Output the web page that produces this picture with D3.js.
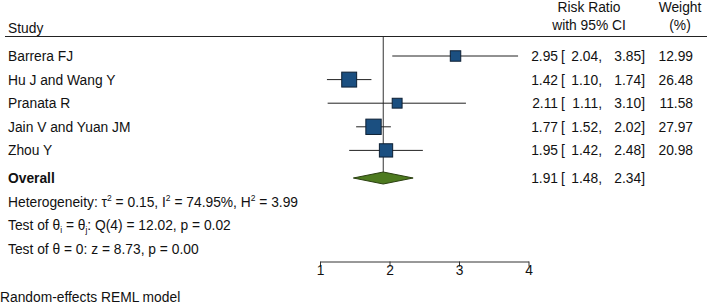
<!DOCTYPE html>
<html><head><meta charset="utf-8">
<script src="https://cdn.jsdelivr.net/npm/d3@7"></script>
<style>body{margin:0;background:#fff}svg{display:block}text{font-family:"Liberation Sans",Arial,sans-serif;fill:#111}</style>
</head><body><svg id="c" width="707" height="305"></svg>
<script>
const studies = ["Barrera FJ","Hu J and Wang Y","Pranata R","Jain V and Yuan JM","Zhou Y"];
const est = [2.95,1.42,2.11,1.77,1.95];
const lower = [2.04,1.10,1.11,1.52,1.42];
const upper = [3.85,1.74,3.10,2.02,2.48];
const weight = [12.99,26.48,11.58,27.97,20.98];
const overall = {label:"Overall", est:1.91, lower:1.48, upper:2.34};
const ticks = [1,2,3,4];

const svg = d3.select("#c");
const x = d3.scaleLinear().domain([1,4]).range([320,528.5]);
const rows = studies.map((s,i)=>i);
const y = d3.scalePoint().domain(d3.range(6)).range([56,174]);
const side = d3.scaleSqrt().domain([0,30]).range([0,2.9*Math.sqrt(30)]);
const fs = 13.8;
const f2 = d3.format(".2f");

// header
svg.append("text").attr("x",8).attr("y",33).attr("font-size",fs).text("Study");
svg.append("text").attr("x",589).attr("y",12).attr("font-size",fs).attr("text-anchor","middle").text("Risk Ratio");
svg.append("text").attr("x",589).attr("y",30).attr("font-size",fs).attr("text-anchor","middle").text("with 95% CI");
svg.append("text").attr("x",680).attr("y",12).attr("font-size",fs).attr("text-anchor","middle").text("Weight");
svg.append("text").attr("x",680).attr("y",30).attr("font-size",fs).attr("text-anchor","middle").text("(%)");
svg.append("line").attr("x1",5).attr("x2",707).attr("y1",36.5).attr("y2",36.5).attr("stroke","#222").attr("stroke-width",1);

// overall vertical line
svg.append("line").attr("x1",x(overall.est)).attr("x2",x(overall.est)).attr("y1",37).attr("y2",y(5)+5)
  .attr("stroke","#333").attr("stroke-width",1);

const g = svg.append("g");
rows.forEach(i=>{
  const cy = y(i);
  g.append("text").attr("x",8).attr("y",cy+5).attr("font-size",fs).text(studies[i]);
  g.append("line").attr("x1",x(lower[i])).attr("x2",x(upper[i])).attr("y1",cy).attr("y2",cy).attr("stroke","#222").attr("stroke-width",1);
  const s = side(weight[i]);
  g.append("rect").attr("x",x(est[i])-s/2).attr("y",cy-s/2).attr("width",s).attr("height",s)
    .attr("fill","#1b4f80").attr("stroke","#0d1f33").attr("stroke-width",1);
  g.append("text").attr("x",558).attr("y",cy+5).attr("font-size",fs).attr("text-anchor","end").text(f2(est[i]));
  g.append("text").attr("x",561).attr("y",cy+5).attr("font-size",fs).text("[");
  g.append("text").attr("x",602).attr("y",cy+5).attr("font-size",fs).attr("text-anchor","end").text(f2(lower[i])+",");
  g.append("text").attr("x",645).attr("y",cy+5).attr("font-size",fs).attr("text-anchor","end").text(f2(upper[i])+"]");
  g.append("text").attr("x",693).attr("y",cy+5).attr("font-size",fs).attr("text-anchor","end").text(f2(weight[i]));
});

// overall
const oy = y(5)+4;
svg.append("text").attr("x",8).attr("y",oy+5).attr("font-size",fs).attr("font-weight","bold").text(overall.label);
svg.append("path").attr("d",`M${x(overall.lower)},${oy}L${x(overall.est)},${oy-6}L${x(overall.upper)},${oy}L${x(overall.est)},${oy+6}Z`)
  .attr("fill","#4d7a1f").attr("stroke","#2a4010").attr("stroke-width",1);
svg.append("text").attr("x",558).attr("y",oy+5).attr("font-size",fs).attr("text-anchor","end").text(f2(overall.est));
svg.append("text").attr("x",561).attr("y",oy+5).attr("font-size",fs).text("[");
svg.append("text").attr("x",602).attr("y",oy+5).attr("font-size",fs).attr("text-anchor","end").text(f2(overall.lower)+",");
svg.append("text").attr("x",645).attr("y",oy+5).attr("font-size",fs).attr("text-anchor","end").text(f2(overall.upper)+"]");

// stats text
const t1 = svg.append("text").attr("x",8).attr("y",206.5).attr("font-size",fs);
t1.append("tspan").text("Heterogeneity: τ");
t1.append("tspan").attr("font-size",8.5).attr("dy",-5.5).text("2");
t1.append("tspan").attr("dy",5.5).text(" = 0.15, I");
t1.append("tspan").attr("font-size",8.5).attr("dy",-5.5).text("2");
t1.append("tspan").attr("dy",5.5).text(" = 74.95%, H");
t1.append("tspan").attr("font-size",8.5).attr("dy",-5.5).text("2");
t1.append("tspan").attr("dy",5.5).text(" = 3.99");

const t2 = svg.append("text").attr("x",8).attr("y",230).attr("font-size",fs);
t2.append("tspan").text("Test of θ");
t2.append("tspan").attr("font-size",8.5).attr("dy",3).text("i");
t2.append("tspan").attr("dy",-3).text(" = θ");
t2.append("tspan").attr("font-size",8.5).attr("dy",3).text("j");
t2.append("tspan").attr("dy",-3).text(": Q(4) = 12.02, p = 0.02");

svg.append("text").attr("x",8).attr("y",253.5).attr("font-size",fs).text("Test of θ = 0: z = 8.73, p = 0.00");

// axis
const ax = svg.append("g").attr("transform","translate(0,261.5)")
  .call(d3.axisBottom(x).tickValues(ticks).tickFormat(d3.format("d")).tickSize(5).tickSizeOuter(0));
ax.select(".domain").attr("stroke","#333");
ax.selectAll(".tick line").attr("stroke","#333");
ax.selectAll(".tick text").attr("font-size",fs).attr("font-family","Liberation Sans, Arial, sans-serif").attr("fill","#111").attr("dy","0.6em").attr("y",5);

svg.append("text").attr("x",0).attr("y",302).attr("font-size",fs).text("Random-effects REML model");
</script></body></html>
